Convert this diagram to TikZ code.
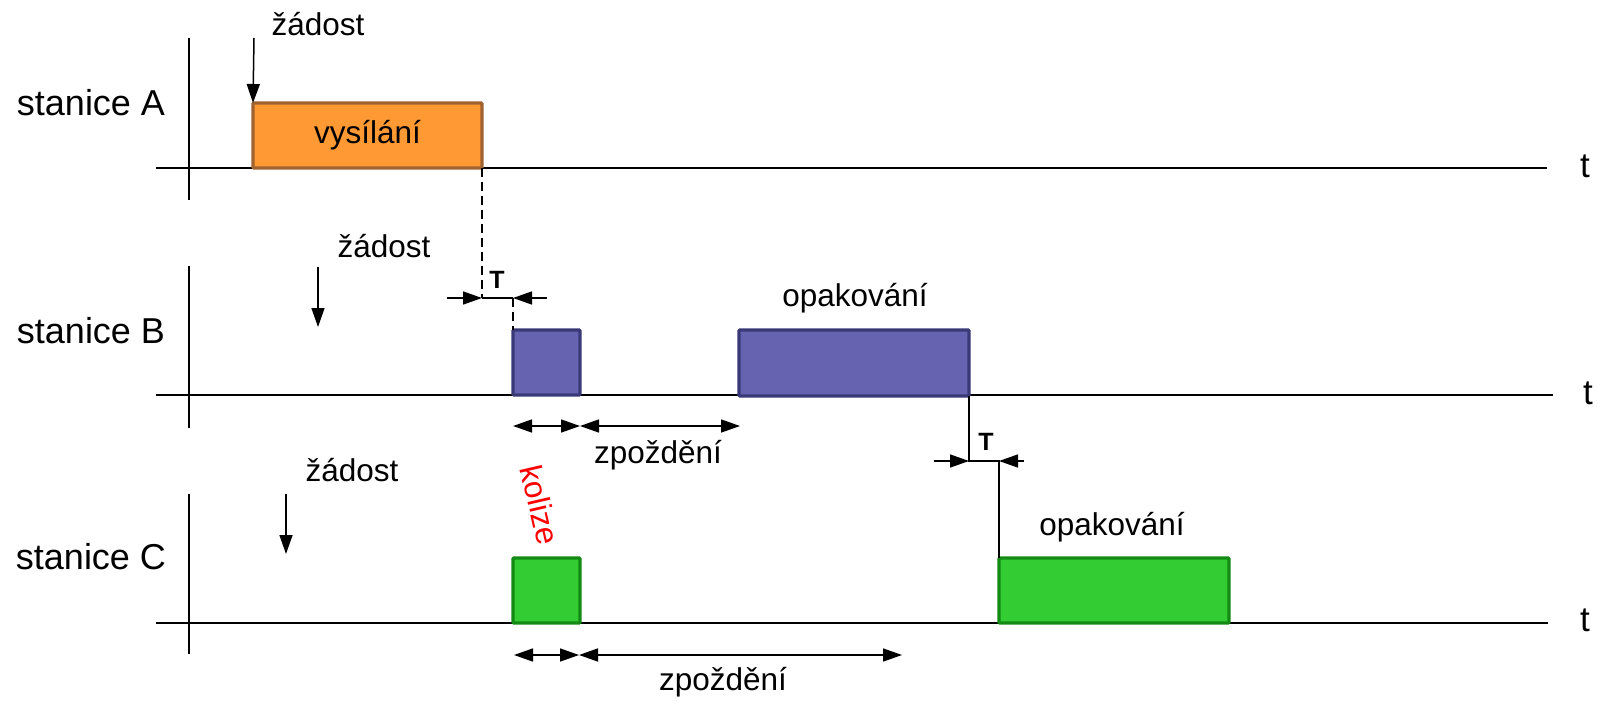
\documentclass[tikz,border=0pt]{standalone}
\usepackage{fontspec}
\setmainfont{Liberation Sans}
\usetikzlibrary{arrows.meta}
\definecolor{orfill}{HTML}{FF9933}
\definecolor{ordraw}{HTML}{A0622F}
\definecolor{blfill}{HTML}{6664B0}
\definecolor{bldraw}{HTML}{393978}
\definecolor{grfill}{HTML}{33CC33}
\definecolor{grdraw}{HTML}{138A13}
\tikzset{
  axis/.style={line width=1.6pt},
  bar/.style={line width=3.4pt, rounded corners=1pt, anchor=north west, inner sep=0pt, outer sep=0pt},
  barA/.style={bar, fill=orfill, draw=ordraw},
  barB/.style={bar, fill=blfill, draw=bldraw},
  barC/.style={bar, fill=grfill, draw=grdraw},
  lbl/.style={font=\fontsize{31.5}{36}\selectfont, inner sep=0pt},
  stlbl/.style={font=\fontsize{36}{40}\selectfont, inner sep=0pt},
  tlbl/.style={font=\fontsize{35}{38}\selectfont, inner sep=0pt},
  Tlbl/.style={font=\fontsize{25}{28}\selectfont\bfseries, inner sep=0pt},
  tip/.style={-{Triangle[length=19pt,width=13pt]}, line width=1.5pt},
  dtip/.style={{Triangle[length=19pt,width=13pt]}-{Triangle[length=19pt,width=13pt]}, line width=1.5pt},
  thin/.style={line width=1.5pt},
  dsh/.style={line width=1.5pt, dash pattern=on 9pt off 5pt},
}
\begin{document}
\begin{tikzpicture}[x=1pt,y=-1pt]
\useasboundingbox (0,0) rectangle (1598,704);
% axes
\draw[axis] (156,168) -- (1547,168);
\draw[axis] (189,38) -- (189,200);
\draw[axis] (156,395) -- (1553,395);
\draw[axis] (189,266) -- (189,428);
\draw[axis] (156,623) -- (1548,623);
\draw[axis] (189,494) -- (189,654);
\node[tlbl] (tA) at (1585,166) {t};
\node[tlbl] (tB) at (1588,393) {t};
\node[tlbl] (tC) at (1585,620) {t};
\node[stlbl] (sA) at (91,103) {stanice A};
\node[stlbl] (sB) at (91,331) {stanice B};
\node[stlbl] (sC) at (91,557) {stanice C};
% boxes
\node[barA, minimum width=229pt, minimum height=65pt] (bA) at (253,103) {};
\node[lbl] at (bA.center) {vysílání};
\node[barB, minimum width=67pt, minimum height=65pt] (bB1) at (513,330) {};
\node[barB, minimum width=230pt, minimum height=66pt] (bB2) at (739,330) {};
\node[barC, minimum width=67pt, minimum height=65pt] (bC1) at (513,558) {};
\node[barC, minimum width=230pt, minimum height=65pt] (bC2) at (999,558) {};
% requests
\node[lbl] (zA) at (318,24) {žádost};
\coordinate (zAs) at (254,38);
\draw[tip] (zAs) -- (bA.north west);
\node[lbl] (zB) at (384,246) {žádost};
\coordinate (zBs) at (318,267);
\coordinate (zBe) at (318,327);
\draw[tip] (zBs) -- (zBe);
\node[lbl] (zC) at (352,470) {žádost};
\coordinate (zCs) at (286,494);
\coordinate (zCe) at (286,554);
\draw[tip] (zCs) -- (zCe);
% T marker 1
\coordinate (T1y) at (0,298);
\coordinate (T1a) at (bA.south east |- T1y);
\coordinate (T1b) at (bB1.north west |- T1y);
\coordinate (T1l) at (447,298);
\coordinate (T1r) at (547,298);
\draw[dsh] (bA.south east) -- (T1a);
\draw[dsh] (T1b) -- (bB1.north west);
\draw[thin] (T1a) -- (T1b);
\draw[tip] (T1l) -- (T1a);
\draw[tip] (T1r) -- (T1b);
\node[Tlbl] (T1) at (497,280) {T};
% T marker 2
\coordinate (T2y) at (0,461);
\coordinate (T2a) at (bB2.south east |- T2y);
\coordinate (T2b) at (bC2.north west |- T2y);
\coordinate (T2l) at (934,461);
\coordinate (T2r) at (1024,461);
\draw[thin] (bB2.south east) -- (T2a) -- (T2b) -- (bC2.north west);
\draw[tip] (T2l) -- (T2a);
\draw[tip] (T2r) -- (T2b);
\node[Tlbl] (T2) at (986,442) {T};
% delays B
\coordinate (dB1) at (513,426);
\coordinate (dB2) at (580,426);
\coordinate (dB3) at (740,426);
\draw[dtip] (dB1) -- (dB2);
\draw[dtip] (dB2) -- (dB3);
\node[lbl] (zpB) at (658,455) {zpoždění};
% delays C
\coordinate (dC1) at (514,655);
\coordinate (dC2) at (579,655);
\coordinate (dC3) at (902,655);
\draw[dtip] (dC1) -- (dC2);
\draw[dtip] (dC2) -- (dC3);
\node[lbl] (zpC) at (723,682) {zpoždění};
% labels
\node[lbl] (opB) at (855,298) {opakování};
\node[lbl] (opC) at (1112,527) {opakování};
\node[lbl, text=red, rotate=-77] (kol) at (540,505) {kolize};
\end{tikzpicture}
\end{document}
